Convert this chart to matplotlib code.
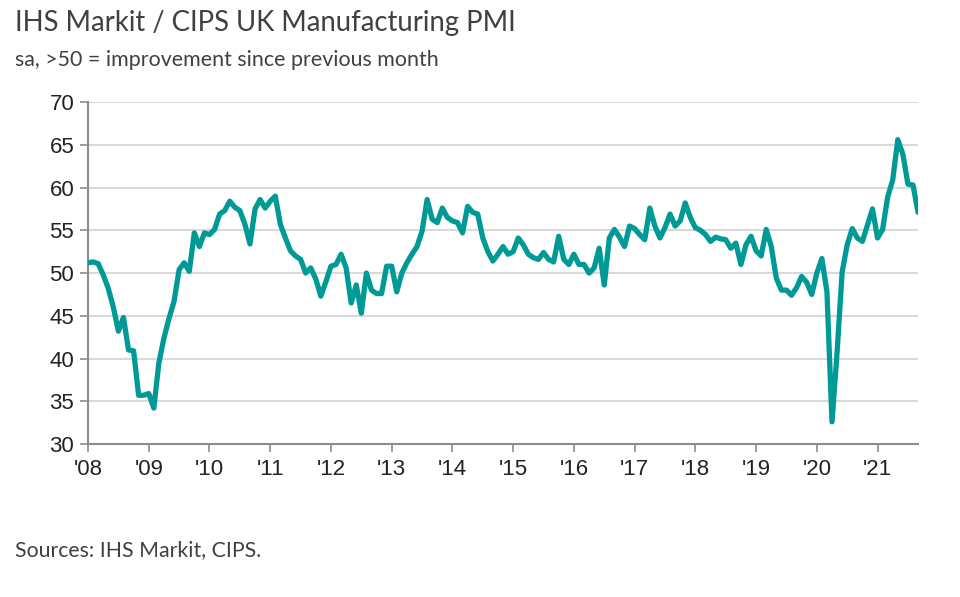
import matplotlib
matplotlib.use("Agg")
from matplotlib import pyplot as plt

# monthly PMI readings, Jan 2008 - Sep 2021
pmi_2008 = [51.2, 51.3, 51.1, 49.8, 48.2, 46.0, 43.2, 44.8, 41.0, 40.9, 35.7, 35.7]
pmi_2009 = [35.9, 34.2, 39.5, 42.4, 44.7, 46.7, 50.4, 51.2, 50.2, 54.7, 53.1, 54.7]
pmi_2010 = [54.5, 55.1, 56.9, 57.3, 58.4, 57.7, 57.3, 55.7, 53.4, 57.5, 58.6, 57.6]
pmi_2011 = [58.4, 59.0, 55.7, 54.1, 52.6, 52.0, 51.6, 50.0, 50.6, 49.3, 47.3, 49.0]
pmi_2012 = [50.8, 51.0, 52.2, 50.6, 46.5, 48.6, 45.3, 50.0, 48.0, 47.6, 47.6, 50.8]
pmi_2013 = [50.8, 47.8, 50.0, 51.2, 52.2, 53.1, 54.9, 58.6, 56.3, 55.9, 57.6, 56.5]
pmi_2014 = [56.1, 55.9, 54.7, 57.8, 57.1, 56.9, 54.1, 52.5, 51.4, 52.2, 53.1, 52.2]
pmi_2015 = [52.5, 54.1, 53.3, 52.2, 51.8, 51.6, 52.4, 51.6, 51.3, 54.3, 51.6, 51.0]
pmi_2016 = [52.2, 51.0, 51.0, 50.0, 50.6, 52.9, 48.6, 54.1, 55.1, 54.2, 53.1, 55.5]
pmi_2017 = [55.2, 54.5, 53.9, 57.6, 55.5, 54.1, 55.3, 56.9, 55.5, 56.1, 58.2, 56.5]
pmi_2018 = [55.3, 55.0, 54.5, 53.7, 54.2, 54.0, 53.9, 52.9, 53.5, 51.0, 53.3, 54.3]
pmi_2019 = [52.6, 52.0, 55.1, 53.1, 49.4, 48.0, 48.0, 47.4, 48.3, 49.6, 48.9, 47.5]
pmi_2020 = [50.0, 51.7, 47.8, 32.6, 40.7, 50.1, 53.3, 55.2, 54.1, 53.7, 55.6, 57.5]
pmi_2021 = [54.1, 55.1, 58.9, 60.9, 65.6, 63.9, 60.4, 60.3, 57.1]

pmi = (pmi_2008 + pmi_2009 + pmi_2010 + pmi_2011 + pmi_2012 + pmi_2013 + pmi_2014
       + pmi_2015 + pmi_2016 + pmi_2017 + pmi_2018 + pmi_2019 + pmi_2020 + pmi_2021)
months = list(range(len(pmi)))

year_labels = ["'08", "'09", "'10", "'11", "'12", "'13", "'14", "'15", "'16",
               "'17", "'18", "'19", "'20", "'21"]
y_ticks = [30, 35, 40, 45, 50, 55, 60, 65, 70]

text_col = "#404040"
axis_col = "#8c8c8c"

fig = plt.figure(figsize=(9.6, 5.97), dpi=100)
ax = fig.add_axes([0.0917, 0.2563, 0.8646, 0.5727])

ax.plot(months, pmi, color="#009a96", lw=3.8, solid_joinstyle="round",
        solid_capstyle="round", zorder=3)

ax.set_ylim(30, 70)
ax.set_xlim(0, len(pmi) - 1)
ax.set_yticks(y_ticks)
ax.set_xticks([12 * i for i in range(len(year_labels))])
ax.set_xticklabels(year_labels, family="Liberation Sans", fontsize=16,
                   color="#222222")
ax.set_yticklabels([str(v) for v in y_ticks], family="Liberation Sans",
                   fontsize=16, color="#222222")

# grid lines except the base line
for v in y_ticks[1:]:
    ax.axhline(v, color="#d9d9d9", lw=1.5, zorder=1)

for side in ["top", "right"]:
    ax.spines[side].set_visible(False)
for side in ["left", "bottom"]:
    ax.spines[side].set_color(axis_col)
    ax.spines[side].set_linewidth(1.5)
ax.tick_params(axis="both", direction="out", length=6, width=1.2, color=axis_col)
ax.tick_params(axis="x", pad=5)
ax.tick_params(axis="y", pad=4)

fig.text(0.016, 0.983, "IHS Markit / CIPS UK Manufacturing PMI", family="Lato",
         fontsize=19.8, color=text_col, va="top")
fig.text(0.016, 0.917, "sa, >50 = improvement since previous month", family="Lato",
         fontsize=15.4, color=text_col, va="top")
fig.text(0.016, 0.062, "Sources: IHS Markit, CIPS.", family="Lato",
         fontsize=15.3, color=text_col, va="bottom")

fig.savefig("out.png", dpi=100)
